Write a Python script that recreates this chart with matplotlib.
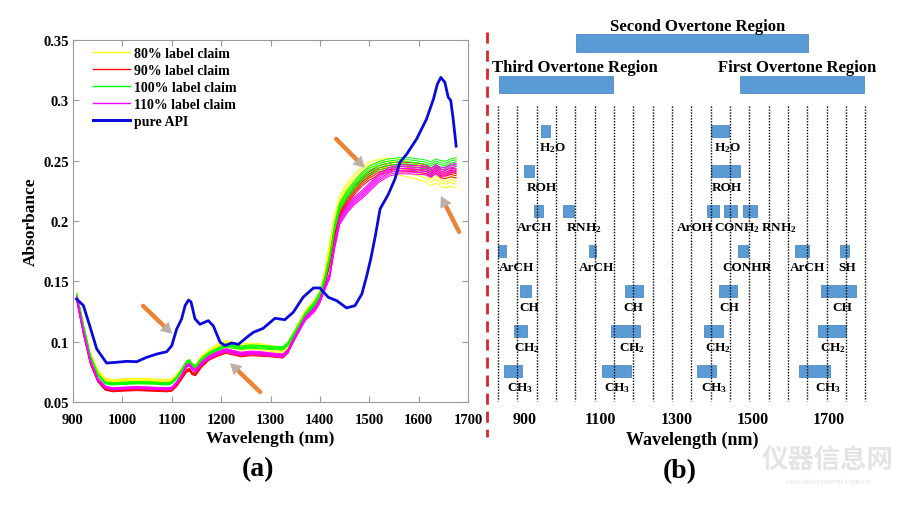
import matplotlib
matplotlib.use("Agg")
import matplotlib.pyplot as plt
from matplotlib.lines import Line2D
from matplotlib.patches import Rectangle

plt.rcParams["font.family"] = ["Liberation Serif", "DejaVu Sans"]
plt.rcParams["font.weight"] = "bold"
plt.rcParams["axes.labelweight"] = "bold"
plt.rcParams["mathtext.fontset"] = "custom"
plt.rcParams["mathtext.rm"] = "Liberation Serif:bold"
plt.rcParams["mathtext.it"] = "Liberation Serif:bold"
plt.rcParams["mathtext.bf"] = "Liberation Serif:bold"

# ---------------- (a) NIR spectra ----------------
wl = [908, 920, 935, 950, 965, 980, 1000, 1030, 1060, 1090, 1100, 1110, 1120, 1130,
      1136, 1141, 1148, 1160, 1175, 1190, 1210, 1225, 1240, 1260, 1280, 1300, 1325,
      1335, 1350, 1370, 1390, 1400, 1410, 1420, 1430, 1440, 1455, 1470, 1485, 1500,
      1520, 1540, 1560, 1580, 1600, 1615, 1625, 1635, 1645, 1655, 1665, 1676]

abs_80 = [0.137, 0.114, 0.089, 0.075, 0.068, 0.067, 0.0675, 0.068, 0.0675, 0.067, 0.0675,
          0.071, 0.076, 0.082, 0.083, 0.080, 0.079, 0.086, 0.091, 0.095, 0.0985, 0.097,
          0.0955, 0.0965, 0.096, 0.0945, 0.093, 0.097, 0.108, 0.123, 0.132, 0.139, 0.155,
          0.178, 0.200, 0.215, 0.226, 0.233, 0.239, 0.243, 0.245, 0.246, 0.245, 0.243,
          0.241, 0.239, 0.236, 0.238, 0.235, 0.234, 0.2355, 0.234]
abs_90 = [0.135, 0.110, 0.083, 0.068, 0.061, 0.0595, 0.060, 0.0605, 0.060, 0.0595, 0.060,
          0.064, 0.070, 0.076, 0.077, 0.074, 0.073, 0.080, 0.086, 0.089, 0.092, 0.0905,
          0.089, 0.090, 0.0895, 0.089, 0.088, 0.092, 0.105, 0.120, 0.130, 0.136, 0.150,
          0.166, 0.190, 0.206, 0.217, 0.226, 0.233, 0.238, 0.243, 0.245, 0.246, 0.2455,
          0.245, 0.2435, 0.241, 0.2435, 0.240, 0.2395, 0.241, 0.240]
abs_100 = [0.138, 0.115, 0.088, 0.073, 0.066, 0.065, 0.0655, 0.066, 0.0658, 0.065, 0.066,
           0.070, 0.076, 0.083, 0.084, 0.081, 0.079, 0.085, 0.090, 0.093, 0.097, 0.096,
           0.095, 0.096, 0.0955, 0.095, 0.0945, 0.098, 0.108, 0.122, 0.132, 0.139, 0.152,
           0.170, 0.195, 0.212, 0.222, 0.230, 0.237, 0.242, 0.246, 0.248, 0.249, 0.249,
           0.248, 0.247, 0.2455, 0.248, 0.2465, 0.246, 0.248, 0.249]
abs_110 = [0.136, 0.110, 0.084, 0.069, 0.0625, 0.061, 0.0615, 0.062, 0.0615, 0.061, 0.0615,
           0.066, 0.072, 0.080, 0.081, 0.078, 0.076, 0.082, 0.087, 0.090, 0.093, 0.0915,
           0.090, 0.091, 0.0905, 0.0895, 0.0885, 0.092, 0.104, 0.119, 0.127, 0.134, 0.145,
           0.155, 0.180, 0.200, 0.210, 0.217, 0.222, 0.228, 0.236, 0.241, 0.243, 0.243,
           0.2425, 0.242, 0.240, 0.2435, 0.2405, 0.2415, 0.2435, 0.2445]

# spread of the replicate scans of each level (relative)
scale_80 = [0.972, 0.985, 0.995, 1.005, 1.015, 1.025]
scale_90 = [0.982, 0.99, 0.997, 1.004, 1.012]
scale_100 = [0.985, 0.993, 1.0, 1.007, 1.014]
scale_110 = [0.984, 0.99, 0.996, 1.002, 1.008, 1.014]

api_wl = [907, 921, 934, 948, 968, 988, 1009, 1029, 1049, 1070, 1090, 1100, 1110, 1120,
          1127, 1134, 1139, 1147, 1157, 1174, 1184, 1198, 1208, 1221, 1235, 1252, 1265,
          1285, 1309, 1329, 1346, 1366, 1387, 1400, 1417, 1434, 1454, 1471, 1485, 1495,
          1503, 1512, 1522, 1539, 1552, 1562, 1576, 1596, 1616, 1630, 1638, 1645, 1653,
          1660, 1665, 1670, 1676]
api_abs = [0.1354, 0.130, 0.113, 0.094, 0.0823, 0.0829, 0.0837, 0.0834, 0.087, 0.0898,
           0.0917, 0.0967, 0.1105, 0.1188, 0.1298, 0.1345, 0.133, 0.119, 0.1144, 0.1174,
           0.1132, 0.0995, 0.0967, 0.0989, 0.0978, 0.1036, 0.1077, 0.111, 0.1194, 0.1182,
           0.1243, 0.1368, 0.1445, 0.1445, 0.1368, 0.134, 0.128, 0.1298, 0.1395, 0.1547,
           0.1685, 0.187, 0.21, 0.2224, 0.2348, 0.2486, 0.2555, 0.268, 0.2845, 0.301,
           0.3135, 0.319, 0.315, 0.3025, 0.300, 0.2845, 0.262]

legend_labels = ["80% label claim", "90% label claim", "100% label claim",
                 "110% label claim", "pure API"]

arrow_tails = [(1042, 0.1296), (1279, 0.0583), (1433, 0.268), (1682, 0.191)]
arrow_heads = [(1101, 0.1064), (1218, 0.0823), (1491, 0.244), (1645, 0.2207)]

x_ticks_a = [900, 1000, 1100, 1200, 1300, 1400, 1500, 1600, 1700]
y_ticks_a = [0.05, 0.1, 0.15, 0.2, 0.25, 0.3, 0.35]
y_ticklabels_a = ["0.05", "0.1", "0.15", "0.2", "0.25", "0.3", "0.35"]

# ---------------- (b) band assignment chart ----------------
region_names = ["Second Overtone Region", "Third Overtone Region", "First Overtone Region"]
region_start = [1034, 831, 1467]
region_end = [1646, 1132, 1794]
region_row = [-2.2, -1.16, -1.16]
region_label_nm = [1356, 1032, 1617]

band_labels = ["H$_2$O", "H$_2$O",
               "ROH", "ROH",
               "ArCH", "RNH$_2$", "ArOH", "CONH$_2$", "RNH$_2$",
               "ArCH", "ArCH", "CONHR", "ArCH", "SH",
               "CH", "CH", "CH", "CH",
               "CH$_2$", "CH$_2$", "CH$_2$", "CH$_2$",
               "CH$_3$", "CH$_3$", "CH$_3$", "CH$_3$"]
band_start = [942, 1390,
              897, 1390,
              924, 1000, 1380, 1425, 1475,
              829, 1068, 1462, 1612, 1731,
              887, 1164, 1411, 1681,
              871, 1127, 1372, 1673,
              845, 1103, 1354, 1622]
band_end = [966, 1438,
            924, 1467,
            947, 1029, 1412, 1459, 1512,
            850, 1087, 1488, 1649, 1755,
            916, 1211, 1459, 1773,
            905, 1203, 1422, 1747,
            892, 1180, 1404, 1704]
band_row = [0, 0,
            1, 1,
            2, 2, 2, 2, 2,
            3, 3, 3, 3, 3,
            4, 4, 4, 4,
            5, 5, 5, 5,
            6, 6, 6, 6]
label_nm = [974, 1433,
            945, 1433,
            926, 1056, 1348, 1459, 1570,
            879, 1090, 1485, 1646, 1749,
            911, 1187, 1438, 1736,
            905, 1182, 1409, 1712,
            887, 1143, 1398, 1699]

grid_nm = [828, 880, 931, 982, 1033, 1084, 1135, 1186, 1237, 1288, 1339, 1390, 1441,
           1492, 1543, 1594, 1644, 1695, 1746, 1797]
x_ticks_b = [900, 1100, 1300, 1500, 1700]

# ---------------- figure ----------------
fig = plt.figure(figsize=(9, 5.06), dpi=100)

ax = fig.add_axes([73 / 900, 1 - 403 / 506, 395 / 900, 362 / 506])

groups = [(abs_80, scale_80, "#FFFF00"), (abs_90, scale_90, "#FF0000"),
          (abs_100, scale_100, "#00FF00"), (abs_110, scale_110, "#FF00FF")]
for vals, scales, col in groups:
    for s in scales:
        ax.plot(wl, [v * s for v in vals], color=col, lw=0.7)
ax.plot(api_wl, api_abs, color="#0A0ADC", lw=2)

handles = [Line2D([], [], color=c, lw=1) for c in ["#FFFF00", "#FF0000", "#00FF00", "#FF00FF"]]
handles.append(Line2D([], [], color="#0A0ADC", lw=2.2))
ax.legend(handles, legend_labels, loc="upper left", bbox_to_anchor=(0.02, 1.015),
          frameon=False, prop={"size": 10, "weight": "bold"}, handlelength=2.6,
          handletextpad=0.35, labelspacing=0.28)

# orange shaft, greyish head
for tail, head in zip(arrow_tails, arrow_heads):
    ax.annotate("", xy=head, xytext=tail,
                arrowprops=dict(arrowstyle="-", color="#EB8437", lw=3.2,
                                shrinkA=0, shrinkB=6))
    ax.annotate("", xy=head, xytext=tail,
                arrowprops=dict(arrowstyle="-|>,head_length=0.8,head_width=0.45",
                                color="#BDAFA8", lw=0.01, shrinkA=0, shrinkB=0))

ax.set_xlim(900, 1700)
ax.set_ylim(0.05, 0.35)
ax.set_xticks(x_ticks_a)
ax.set_yticks(y_ticks_a)
ax.set_yticklabels(y_ticklabels_a)
ax.tick_params(direction="in", top=True, right=True, length=4, width=0.8,
               color="#9A9A9A", labelsize=10.5)
ax.tick_params(axis="x", pad=8)
ax.tick_params(axis="y", pad=3)
for sp in ax.spines.values():
    sp.set_color("#9A9A9A")
    sp.set_linewidth(0.8)
ax.set_xlabel("Wavelength (nm)", fontsize=12.5, labelpad=3)
ax.set_ylabel("Absorbance", fontsize=12.5, labelpad=3)

fig.text(258 / 900, 1 - 470 / 506, "(a)", ha="center", va="center", fontsize=20)

# right panel
ax2 = fig.add_axes([490 / 900, 1 - 404 / 506, 390 / 900, 384 / 506])
ax2.set_xlim(808, 1836)
ax2.set_ylim(6.8, -2.8)
for sp in ax2.spines.values():
    sp.set_visible(False)
ax2.set_yticks([])
ax2.set_xticks(x_ticks_b)
ax2.tick_params(axis="x", length=0, labelsize=11.5, pad=6)

ax2.vlines(grid_nm, -0.62, 6.75, colors="black", linestyles=(0, (1, 1.1)), lw=1)

box_blue = "#5B9BD5"
for name, s, e, r, lx in zip(region_names, region_start, region_end, region_row, region_label_nm):
    ax2.add_patch(Rectangle((s, r - 0.22), e - s, 0.44, facecolor=box_blue,
                            edgecolor="#4F8CC4", lw=0.6))
    ax2.text(lx, r - 0.43, name, ha="center", va="center", fontsize=12)

for lab, s, e, r, lx in zip(band_labels, band_start, band_end, band_row, label_nm):
    ax2.add_patch(Rectangle((s, r - 0.16), e - s, 0.32, facecolor=box_blue,
                            edgecolor="#4F8CC4", lw=0.6))
    ax2.text(lx, r + 0.4, lab, ha="center", va="center", fontsize=9.5)

fig.text(692 / 900, 1 - 440 / 506, "Wavelength (nm)", ha="center", va="center",
         fontsize=13, weight="bold")

fig.add_artist(Line2D([487 / 900, 487 / 900], [1 - 33 / 506, 1 - 438 / 506],
                      color="#D9262B", lw=2, linestyle=(0, (4, 2.5))))

fig.text(680 / 900, 1 - 472 / 506, "(b)", ha="center", va="center", fontsize=20)

fig.text(828 / 900, 1 - 460 / 506, "仪器信息网", ha="center", va="center", fontsize=19,
         color="#E4E4E4", family=["Noto Sans CJK SC", "DejaVu Sans"])
fig.text(828 / 900, 1 - 482 / 506, "www.instrument.com.cn", ha="center", va="center",
         fontsize=6, color="#EBEBEB")

fig.savefig("out.png", dpi=100)
